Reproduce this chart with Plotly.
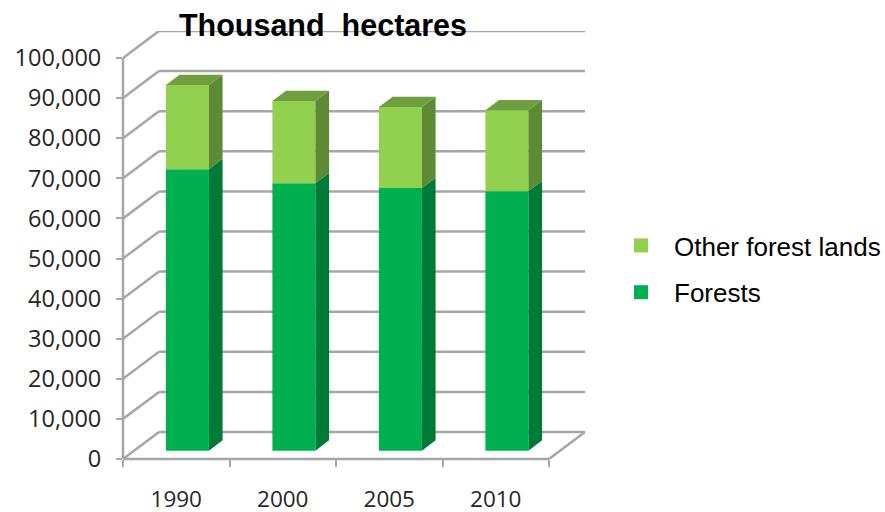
import plotly.graph_objects as go

years = ["1990", "2000", "2005", "2010"]
forests = [70200, 66700, 65500, 64700]
other_forest_lands = [21000, 20500, 20200, 20200]
y_ticks = [0, 10000, 20000, 30000, 40000, 50000, 60000, 70000, 80000, 90000, 100000]
y_tick_labels = ["0", "10,000", "20,000", "30,000", "40,000", "50,000", "60,000", "70,000", "80,000", "90,000", "100,000"]

W, H = 885, 512
L, R, T, B = 123, 585, 31, 459
cat_px = 106.5
y_px = 4.01 / 1000  # pixels per unit
DEPTH_X = 36 / cat_px
DEPTH_Y = 27 / y_px
BAR_W = 43 / cat_px
F0, F1 = 0.31, 0.69  # bar front/rear as share of the floor depth
GRID = "#A6A6A6"
LINE_W = 2.5
LIGHT, LIGHT_SIDE, LIGHT_TOP = "#92D050", "#5F8A35", "#6E9E3D"
DARK, DARK_SIDE = "#00B050", "#007A37"
TEXT_FONT = "Liberation Sans"
TICK_FONT = "Open Sans"

fig = go.Figure()
n = len(years)
xr = [0, n + DEPTH_X]
yr = [0, (B - T) / y_px]


def line(x0, y0, x1, y1, xref="x", yref="y"):
    return dict(type="line", xref=xref, yref=yref, x0=x0, y0=y0, x1=x1, y1=y1,
                layer="below", line=dict(color=GRID, width=LINE_W))


shapes = []
for v in y_ticks:
    shapes.append(line(DEPTH_X, v + DEPTH_Y, n + DEPTH_X, v + DEPTH_Y))
    shapes.append(line(0, v, DEPTH_X, v + DEPTH_Y))
shapes.append(line(0, 0, 0, y_ticks[-1], xref="paper"))
shapes.append(line(0, 0, n, 0, yref="paper"))
shapes.append(line(n, 0, n + DEPTH_X, DEPTH_Y))

cx = [i + 0.5 + F0 * DEPTH_X for i in range(n)]
base_y = F0 * DEPTH_Y
dx = (F1 - F0) * DEPTH_X
dy = (F1 - F0) * DEPTH_Y

# front faces
fig.add_trace(go.Bar(x=cx, y=forests, base=[base_y] * n, width=BAR_W,
                     marker=dict(color=DARK, line=dict(width=0)), showlegend=False, hoverinfo="skip"))
fig.add_trace(go.Bar(x=cx, y=other_forest_lands, base=[base_y + f for f in forests], width=BAR_W,
                     marker=dict(color=LIGHT, line=dict(width=0)), showlegend=False, hoverinfo="skip"))


def poly(xs, ys, color):
    fig.add_trace(go.Scatter(x=xs, y=ys, mode="lines", fill="toself", fillcolor=color,
                             line=dict(width=0, color=color), showlegend=False, hoverinfo="skip"))


# side and top faces
for i in range(n):
    r = cx[i] + BAR_W / 2
    l = cx[i] - BAR_W / 2
    b = base_y
    m = base_y + forests[i]
    t = m + other_forest_lands[i]
    poly([r, r + dx, r + dx, r, r], [b, b + dy, m + dy, m, b], DARK_SIDE)
    poly([r, r + dx, r + dx, r, r], [m, m + dy, t + dy, t, m], LIGHT_SIDE)
    poly([l, r, r + dx, l + dx, l], [t, t, t + dy, t + dy, t], LIGHT_TOP)

# legend entries
for name, color in [("Other forest lands", LIGHT), ("Forests", DARK)]:
    fig.add_trace(go.Scatter(x=[None], y=[None], mode="markers", name=name, legendgroup=name,
                             marker=dict(symbol="square", size=14, color=color)))

fig.update_layout(
    width=W, height=H, autosize=False, barmode="overlay",
    paper_bgcolor="white", plot_bgcolor="white",
    margin=dict(l=L, r=W - R, t=T, b=H - B, pad=0, autoexpand=False),
    shapes=shapes,
    title=dict(text="Thousand\u00a0 hectares", x=323 / W, xanchor="center", y=1 - 25 / H, yanchor="middle",
               font=dict(family=TEXT_FONT, size=30.5, color="black", weight="bold")),
    legend=dict(x=(608 - L) / (R - L), xanchor="left", y=1 - (222 - T) / (B - T), yanchor="top", traceorder="grouped",
                tracegroupgap=10, itemwidth=56, font=dict(family=TEXT_FONT, size=26, color="black"),
                bgcolor="rgba(0,0,0,0)"),
    xaxis=dict(range=xr, showgrid=False, zeroline=False, showline=False, automargin=False,
               tickmode="array", tickvals=[i + 0.5 for i in range(n)], ticktext=years, ticks="",
               ticklabelstandoff=24, tickfont=dict(family=TICK_FONT, size=22.5, color="#262626"),
               minor=dict(tickmode="array", tickvals=list(range(n + 1)), ticks="outside", ticklen=7,
                          tickwidth=2, tickcolor=GRID, showgrid=False)),
    yaxis=dict(range=yr, showgrid=False, zeroline=False, showline=False, automargin=False,
               tickmode="array", tickvals=y_ticks, ticktext=y_tick_labels, ticks="outside", ticklen=6,
               tickwidth=2, tickcolor=GRID, ticklabelstandoff=10,
               tickfont=dict(family=TICK_FONT, size=23.5, color="#262626")),
)
fig.write_html("out.html", config=dict(displayModeBar=False),
               post_script="document.body.style.margin='0';document.documentElement.style.overflow='hidden';")
